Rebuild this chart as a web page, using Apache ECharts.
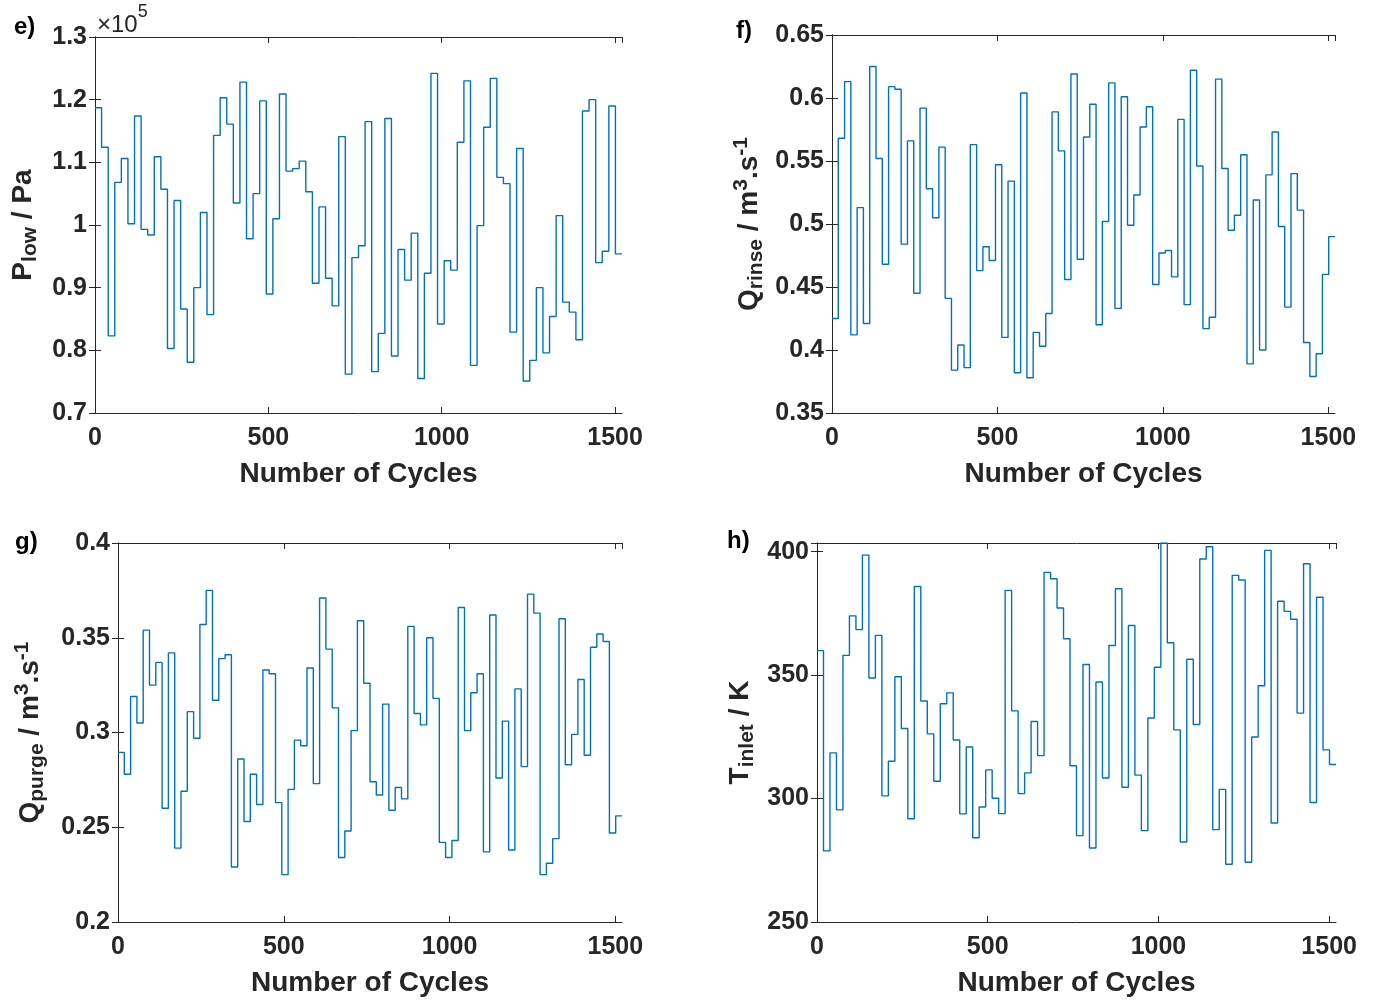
<!DOCTYPE html>
<html><head><meta charset="utf-8">
<script src="https://cdn.jsdelivr.net/npm/echarts@6/dist/echarts.min.js"></script>
<style>html,body{margin:0;padding:0;background:#fff}#c{width:1376px;height:1001px}</style>
</head><body><div id="c"></div>
<script>
// ---- data ----
const STEP = 19;            // cycles per operating step
const CYCLE_MAX = 1520;
const xTicks = [0, 500, 1000, 1500];
// e) P_low in units of 1e5 Pa
const pLow = [1.187,1.124,0.823,1.068,1.106,1.002,1.174,0.993,0.984,1.109,1.057,0.803,1.039,0.866,0.781,0.900,1.020,0.857,1.143,1.203,1.161,1.035,1.228,0.978,1.050,1.198,
  0.890,1.010,1.209,1.086,1.090,1.102,1.053,0.907,1.029,0.915,0.871,1.141,0.762,0.948,0.967,1.165,0.766,0.827,1.170,0.791,0.961,0.912,0.987,0.755,0.923,1.242,
  0.842,0.943,0.928,1.132,1.230,0.776,0.999,1.156,1.234,1.076,1.066,0.829,1.122,0.751,0.784,0.900,0.796,0.854,1.015,0.877,0.861,0.817,1.182,1.200,0.940,0.958,1.190,0.954];
// f) Q_rinse m3/s
const qRinse = [0.425,0.568,0.613,0.412,0.513,0.421,0.625,0.552,0.468,0.609,0.607,0.484,0.566,0.445,0.592,0.528,0.505,0.561,0.441,0.384,0.404,0.386,0.563,0.463,0.482,0.471,0.547,
  0.410,0.534,0.382,0.604,0.378,0.414,0.403,0.429,0.589,0.558,0.456,0.619,0.472,0.569,0.595,0.420,0.502,0.612,0.433,0.601,0.499,0.523,0.577,0.593,0.452,0.477,0.479,
  0.458,0.583,0.436,0.622,0.546,0.417,0.426,0.615,0.544,0.495,0.507,0.555,0.389,0.519,0.400,0.539,0.573,0.498,0.434,0.540,0.511,0.406,0.379,0.397,0.460,0.490];
// g) Q_purge m3/s
const qPurge = [0.2895,0.278,0.319,0.305,0.354,0.325,0.337,0.260,0.342,0.239,0.269,0.311,0.297,0.357,0.375,0.317,0.339,0.341,0.229,0.286,0.253,0.278,0.262,0.333,0.331,0.263,0.225,
  0.270,0.296,0.293,0.334,0.273,0.371,0.344,0.313,0.234,0.248,0.301,0.359,0.326,0.274,0.267,0.315,0.259,0.271,0.265,0.356,0.310,0.304,0.350,0.318,0.242,0.234,0.243,
  0.366,0.301,0.321,0.331,0.237,0.362,0.276,0.306,0.238,0.323,0.282,0.373,0.363,0.225,0.231,0.244,0.360,0.283,0.299,0.328,0.288,0.345,0.352,0.348,0.247,0.256];
// h) T_inlet K
const tInlet = [359.9,278.8,318.5,295.4,358.0,374.0,368.4,398.6,348.8,366.1,301.1,315.1,349.3,328.4,291.8,385.9,339.5,326.2,307.0,338.4,342.8,323.7,293.8,320.9,284.1,296.6,
  311.6,300.1,293.9,384.3,335.5,302.0,310.4,331.2,317.4,391.6,389.0,377.2,364.7,313.3,285.0,354.3,280.0,347.2,308.3,362.0,385.0,304.6,370.1,309.5,287.0,332.6,353.2,
  403.5,363.1,327.8,282.4,356.4,330.0,397.0,402.0,287.4,303.7,273.4,390.4,388.5,274.2,324.9,345.7,400.5,290.1,379.9,375.8,372.6,334.6,395.1,298.4,381.5,319.7,313.8];
const yTicksE = [0.7,0.8,0.9,1,1.1,1.2,1.3];
const yTicksF = [0.35,0.4,0.45,0.5,0.55,0.6,0.65];
const yTicksG = [0.2,0.25,0.3,0.35,0.4];
const yTicksH = [250,300,350,400];

function stepData(vals){
  const d = vals.map((v,i)=>[i*STEP, v]);
  d.push([vals.length*STEP, vals[vals.length-1]]);
  return d;
}

const FONT = '"Liberation Sans", Arial, sans-serif';
const TXT = '#262626';
const AX = '#262626';
const BLUE = '#0072BD';

const panels = [
  {grid:{left:95, top:37, width:527, height:376}, vals:pLow, yt:yTicksE, ymax:1.3,
   name:'{m|P}{s|low}{m| / Pa}', gap:54},
  {grid:{left:832, top:35, width:503, height:378}, vals:qRinse, yt:yTicksF, ymax:0.65,
   name:'{m|Q}{s|rinse}{m| / m}{p|3}{m|.s}{p|-1}', gap:65},
  {grid:{left:118, top:543, width:504, height:379}, vals:qPurge, yt:yTicksG, ymax:0.4,
   name:'{m|Q}{s|purge}{m| / m}{p|3}{m|.s}{p|-1}', gap:70},
  {grid:{left:817, top:543, width:519, height:379}, vals:tInlet, yt:yTicksH, ymax:403.5,
   name:'{m|T}{s|inlet}{m| / K}', gap:59}
];

const rich = {
  m:{fontFamily:FONT, fontWeight:'bold', fontSize:28, color:TXT, lineHeight:36},
  s:{fontFamily:FONT, fontWeight:'bold', fontSize:21, color:TXT, lineHeight:21, verticalAlign:'bottom'},
  p:{fontFamily:FONT, fontWeight:'bold', fontSize:21, color:TXT, lineHeight:21, verticalAlign:'top'}
};

const grid=[], xAxis=[], yAxis=[], series=[];
panels.forEach((p,i)=>{
  grid.push(p.grid);
  const ymin = p.yt[0];
  const yint = p.yt[1]-p.yt[0];
  const lineCfg = {show:true, lineStyle:{color:AX, width:1}};
  const tickCfg = {show:true, inside:true, length:6, lineStyle:{color:AX, width:1}};
  xAxis.push({type:'value', gridIndex:i, position:'bottom', min:0, max:CYCLE_MAX, interval:500,
    axisLine:lineCfg, axisTick:tickCfg, splitLine:{show:false},
    axisLabel:{show:true, margin:13, fontFamily:FONT, fontWeight:'bold', fontSize:25, color:TXT,
      formatter:v=> xTicks.includes(v)? String(v):'' , showMaxLabel:false},
    name:'Number of Cycles', nameLocation:'middle', nameGap:47,
    nameTextStyle:{fontFamily:FONT, fontWeight:'bold', fontSize:28, color:TXT}});
  xAxis.push({type:'value', gridIndex:i, position:'top', min:0, max:CYCLE_MAX, interval:500,
    axisLine:lineCfg, axisTick:tickCfg, axisLabel:{show:false}, splitLine:{show:false}});
  yAxis.push({type:'value', gridIndex:i, position:'left', min:ymin, max:p.ymax, interval:yint,
    axisLine:lineCfg, axisTick:tickCfg, splitLine:{show:false},
    axisLabel:{show:true, margin:8, fontFamily:FONT, fontWeight:'bold', fontSize:25, color:TXT,
      formatter:v=> p.yt.some(t=>Math.abs(t-v)<1e-9)? String(+v.toFixed(4)) : ''},
    name:p.name, nameLocation:'middle', nameGap:p.gap,
    nameTextStyle:{rich:rich}});
  yAxis.push({type:'value', gridIndex:i, position:'right', min:ymin, max:p.ymax, interval:yint,
    axisLine:lineCfg, axisTick:tickCfg, axisLabel:{show:false}, splitLine:{show:false}});
  series.push({type:'line', xAxisIndex:2*i, yAxisIndex:2*i, data:stepData(p.vals), step:'end',
    showSymbol:false, symbol:'none', lineStyle:{color:BLUE, width:1.4}, animation:false, silent:true});
});

const lbl = (text,x,y)=>({type:'text', left:x, top:y, style:{text:text, font:'bold 24px '+FONT, fill:'#000'}});

const option = {
  animation:false,
  backgroundColor:'#fff',
  grid, xAxis, yAxis, series,
  graphic:[
    lbl('e)',14,15), lbl('f)',736,19), lbl('g)',15,530), lbl('h)',727,529),
    {type:'text', left:97, top:3, style:{text:'{a|×10}{b|5}', rich:{
      a:{fontFamily:FONT, fontSize:24, fill:TXT, lineHeight:34, verticalAlign:'bottom'},
      b:{fontFamily:FONT, fontSize:18, fill:TXT, lineHeight:18, verticalAlign:'top'}}}}
  ]
};
const chart = echarts.init(document.getElementById('c'), null, {renderer:'canvas'});
chart.setOption(option);
</script></body></html>
